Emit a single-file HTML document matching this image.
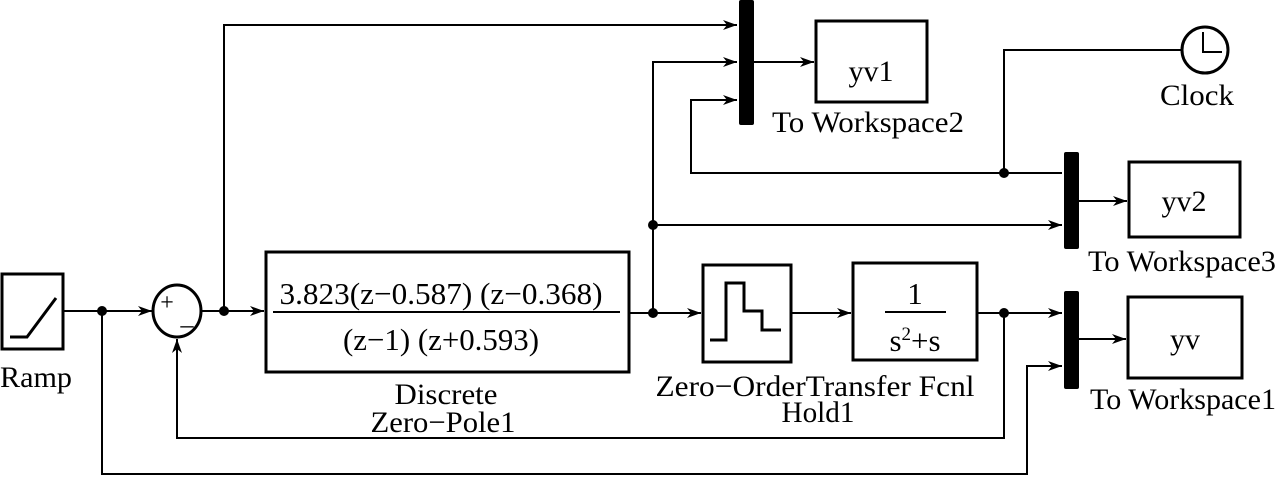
<!DOCTYPE html>
<html><head><meta charset="utf-8"><style>html,body{margin:0;padding:0;background:#fff}</style></head>
<body>
<svg width="1276" height="478" viewBox="0 0 1276 478" xmlns="http://www.w3.org/2000/svg" font-family="'Liberation Serif', serif" font-size="30" fill="none" stroke="#000">
<defs>
<marker id="a" viewBox="0 0 14 10" refX="14" refY="5" markerWidth="14" markerHeight="10" markerUnits="userSpaceOnUse" orient="auto">
<path d="M0,0 L14,5 L0,10 L4,5 Z" fill="#000" stroke="none"/>
</marker>
</defs>
<g stroke-width="2">
<rect x="2" y="274" width="61" height="75" stroke-width="3"/>
<path d="M10,337 H27 L56,298" stroke-width="3"/>
<path d="M63,311 H152" marker-end="url(#a)"/>
<ellipse cx="177" cy="311" rx="24" ry="26" stroke-width="3"/>
<path d="M202,311 H264" marker-end="url(#a)"/>
<path d="M224,311 V25 H737" marker-end="url(#a)"/>
<rect x="266" y="252" width="363" height="120" stroke-width="3"/>
<line x1="273" y1="312" x2="620" y2="312"/>
<path d="M629,313 H701" marker-end="url(#a)"/>
<path d="M653,313 V62 H737" marker-end="url(#a)"/>
<path d="M653,225 H1062" marker-end="url(#a)"/>
<rect x="703" y="265" width="88" height="97" stroke-width="3"/>
<path d="M710,340 H726 V283 H744 V311 H762 V330 H781" stroke-width="3"/>
<path d="M791,313 H851" marker-end="url(#a)"/>
<rect x="853" y="263" width="124" height="97" stroke-width="3"/>
<line x1="885" y1="312" x2="946" y2="312"/>
<path d="M977,313 H1062" marker-end="url(#a)"/>
<path d="M1004,313 V438 H177 V339" marker-end="url(#a)"/>
<path d="M102,311 V474 H1027 V366 H1062" marker-end="url(#a)"/>
<path d="M1062,173 H691 V100 H737" marker-end="url(#a)"/>
<path d="M1004,173 V50 H1182"/>
<path d="M754,62 H814" marker-end="url(#a)"/>
<path d="M1079,201 H1127" marker-end="url(#a)"/>
<path d="M1079,339 H1126" marker-end="url(#a)"/>
<rect x="816" y="21" width="111" height="81" stroke-width="3"/>
<rect x="1129" y="162" width="111" height="75" stroke-width="3"/>
<rect x="1128" y="297" width="114" height="81" stroke-width="3"/>
<circle cx="1205" cy="50" r="23" stroke-width="3"/>
<path d="M1203,32 V52 H1222" stroke-width="2"/>
</g>
<g fill="#000" stroke="none">
<rect x="739" y="0" width="15" height="125" rx="2"/>
<rect x="1064" y="152" width="15" height="97" rx="2"/>
<rect x="1064" y="291" width="15" height="98" rx="2"/>
<circle cx="102" cy="311" r="5"/>
<circle cx="224" cy="311" r="5"/>
<circle cx="653" cy="313" r="5"/>
<circle cx="653" cy="225" r="5"/>
<circle cx="1004" cy="173" r="5"/>
<circle cx="1004" cy="313" r="5"/>
</g>
<g fill="#000" stroke="none" text-anchor="middle" lengthAdjust="spacingAndGlyphs">
<text x="167" y="310" font-size="24">+</text>
<text x="187" y="324" font-size="26">_</text>
<text x="441" y="304" font-size="31" textLength="323" lengthAdjust="spacingAndGlyphs">3.823(z−0.587) (z−0.368)</text>
<text x="441" y="350" font-size="31" textLength="196" lengthAdjust="spacingAndGlyphs">(z−1) (z+0.593)</text>
<text x="915" y="304" font-size="31">1</text>
<text x="915" y="351" font-size="31">s<tspan font-size="19" dy="-11">2</tspan><tspan dy="11">+s</tspan></text>
<text x="871" y="81">yv1</text>
<text x="1184" y="211">yv2</text>
<text x="1185" y="349">yv</text>
<text x="36" y="387" textLength="72" lengthAdjust="spacingAndGlyphs">Ramp</text>
<text x="446" y="404" textLength="103" lengthAdjust="spacingAndGlyphs">Discrete</text>
<text x="443" y="432" textLength="145" lengthAdjust="spacingAndGlyphs">Zero−Pole1</text>
<text x="815" y="396" textLength="319" lengthAdjust="spacingAndGlyphs">Zero−OrderTransfer Fcnl</text>
<text x="818" y="422" textLength="73" lengthAdjust="spacingAndGlyphs">Hold1</text>
<text x="868" y="132" textLength="192" lengthAdjust="spacingAndGlyphs">To Workspace2</text>
<text x="1197" y="105" textLength="74" lengthAdjust="spacingAndGlyphs">Clock</text>
<text x="1182" y="271" textLength="188" lengthAdjust="spacingAndGlyphs">To Workspace3</text>
<text x="1183" y="409" textLength="186" lengthAdjust="spacingAndGlyphs">To Workspace1</text>
</g>
</svg>
</body></html>
